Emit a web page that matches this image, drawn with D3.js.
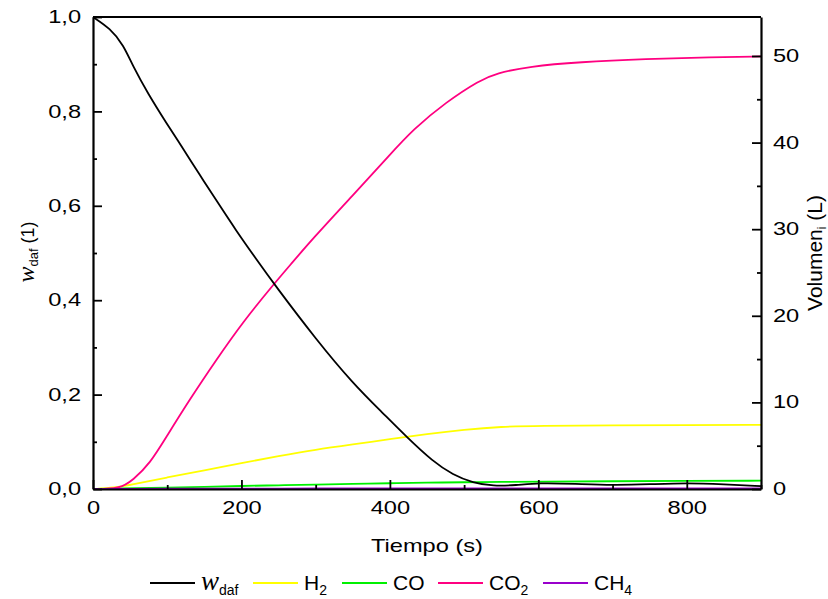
<!DOCTYPE html>
<html>
<head>
<meta charset="utf-8">
<script src="https://d3js.org/d3.v7.min.js"></script>
<style>
  body { margin: 0; background: #fff; }
  text { font-family: "Liberation Sans", Arial, sans-serif; fill: #000; }
</style>
</head>
<body>
<script>
// w_daf (left axis, fraction)
var tW = [0, 23, 41, 54, 74, 99, 121, 144, 166, 193, 220, 245, 301, 350, 391, 422, 458, 485, 512, 539, 570, 600, 650, 700, 750, 800, 850, 900];
var wDaf = [1.0, 0.976, 0.941, 0.895, 0.838, 0.775, 0.722, 0.665, 0.612, 0.547, 0.487, 0.432, 0.316, 0.224, 0.160, 0.111, 0.058, 0.030, 0.013, 0.006, 0.008, 0.013, 0.011, 0.008, 0.010, 0.013, 0.010, 0.006];

// gas volumes (right axis, L)
var tGas = [0, 36, 54, 77, 99, 130, 166, 202, 245, 265, 296, 350, 400, 431, 476, 521, 543, 588, 655, 745, 834, 900];
var vCO2 = [0, 0, 1.04, 2.97, 6.04, 10.3, 14.9, 19.3, 23.8, 25.8, 28.9, 33.9, 38.6, 41.5, 44.7, 47.2, 48.0, 48.8, 49.3, 49.65, 49.85, 49.95];

var tH2 = [0, 30, 50, 100, 150, 200, 250, 300, 350, 400, 450, 500, 550, 600, 700, 800, 900];
var vH2 = [0, 0.15, 0.45, 1.35, 2.15, 3.0, 3.8, 4.55, 5.15, 5.75, 6.35, 6.85, 7.2, 7.3, 7.35, 7.38, 7.4];
var vCO = [0, 0.05, 0.1, 0.15, 0.25, 0.35, 0.43, 0.5, 0.58, 0.67, 0.73, 0.78, 0.82, 0.85, 0.9, 0.93, 0.96];
var vCH4 = [0, 0.01, 0.02, 0.03, 0.04, 0.05, 0.05, 0.06, 0.06, 0.07, 0.07, 0.07, 0.08, 0.08, 0.08, 0.08, 0.08];

var xTicks = [0, 200, 400, 600, 800];
var yLeftTicks = [0, 0.2, 0.4, 0.6, 0.8, 1.0];
var yRightTicks = [0, 10, 20, 30, 40, 50];

var legendNames = ["w", "H", "CO", "CO", "CH"];
var legendSubs = ["daf", "2", "", "2", "4"];
var colors = ["#000000", "#ffff00", "#00f000", "#ff0080", "#9900cc"];

var W = 828, H = 599;
var pLeft = 93, pRight = 761, pTop = 17, pBottom = 489;
var sx = 1.35; // labels in the source look horizontally stretched

var svg = d3.select("body").append("svg")
  .attr("width", W).attr("height", H);

var x = d3.scaleLinear().domain([0, 900]).range([pLeft, pRight]);
var yL = d3.scaleLinear().domain([0, 1]).range([pBottom, pTop]);
var yR = d3.scaleLinear().domain([0, 54.5]).range([pBottom, pTop]);

var fmt = function (d) { return d3.format(".1f")(d).replace(".", ","); };

// curves
var line = d3.line().curve(d3.curveBasis);
function drawSeries(ts, vs, yScale, color) {
  var pts = ts.map(function (t, i) { return [x(t), yScale(vs[i])]; });
  svg.append("path")
    .attr("d", line(pts))
    .attr("fill", "none")
    .attr("stroke", color)
    .attr("stroke-width", 1.8);
}
drawSeries(tH2, vCO, yR, colors[2]);
drawSeries(tH2, vH2, yR, colors[1]);
drawSeries(tGas, vCO2, yR, colors[3]);
drawSeries(tW, wDaf, yL, colors[0]);
drawSeries(tH2, vCH4, yR, colors[4]);

// axes (ticks pointing inward)
var gx = svg.append("g").attr("transform", "translate(0," + pBottom + ")")
  .call(d3.axisBottom(x).tickValues(d3.range(0, 901, 100)).tickSizeInner(-9).tickSizeOuter(0)
    .tickFormat(function (d) { return xTicks.indexOf(d) >= 0 ? d : ""; }));
var gl = svg.append("g").attr("transform", "translate(" + pLeft + ",0)")
  .call(d3.axisLeft(yL).tickValues(d3.range(0, 11).map(function (i) { return i / 10; }))
    .tickSizeInner(-9).tickSizeOuter(0)
    .tickFormat(function (d, i) { return i % 2 === 0 ? fmt(d) : ""; }));
var gr = svg.append("g").attr("transform", "translate(" + pRight + ",0)")
  .call(d3.axisRight(yR).tickValues(d3.range(0, 51, 5)).tickSizeInner(-9).tickSizeOuter(0)
    .tickFormat(function (d) { return yRightTicks.indexOf(d) >= 0 ? d : ""; }));

[gx, gl, gr].forEach(function (g) {
  g.attr("font-size", null).attr("font-family", null);
  g.select(".domain").attr("stroke", "#000").attr("stroke-width", 2.2);
  g.selectAll(".tick line").attr("stroke", "#000").attr("stroke-width", 1.8);
  g.selectAll(".tick text").style("font-size", "17.5px").attr("fill", "#000")
    .attr("transform", "scale(" + sx + ",1)");
});
gx.selectAll(".tick text").attr("y", 13).attr("dy", "0.71em");
gx.selectAll(".tick").filter(function (d) { return xTicks.indexOf(d) < 0; })
  .select("line").attr("y2", -4);
gl.selectAll(".tick").filter(function (d, i) { return i % 2 === 1; })
  .select("line").attr("x2", 4);
gl.selectAll(".tick text").attr("x", -12 / sx);
gr.selectAll(".tick").filter(function (d) { return yRightTicks.indexOf(d) < 0; })
  .select("line").attr("x2", -4);
gr.selectAll(".tick text").attr("x", 12 / sx);

// top border
svg.append("line")
  .attr("x1", pLeft).attr("x2", pRight).attr("y1", pTop).attr("y2", pTop)
  .attr("stroke", "#000").attr("stroke-width", 2.2);

// axis titles
svg.append("text")
  .attr("transform", "translate(427,552) scale(" + sx + ",1)")
  .attr("text-anchor", "middle").style("font-size", "17.5px")
  .text("Tiempo (s)");

var lt = svg.append("text")
  .attr("transform", "translate(34,252) rotate(-90)")
  .attr("text-anchor", "middle").style("font-size", "18px");
lt.append("tspan").style("font-family", "'Liberation Serif', serif").style("font-style", "italic")
  .style("font-size", "24px").text("w");
lt.append("tspan").attr("dy", 4).style("font-size", "13px").text("daf");
lt.append("tspan").attr("dy", -4).text(" (1)");

var rt = svg.append("text")
  .attr("transform", "translate(822,253) rotate(-90)")
  .attr("text-anchor", "middle").style("font-size", "21px");
rt.append("tspan").text("Volumen");
rt.append("tspan").attr("dy", 4).style("font-size", "12px").text("i");
rt.append("tspan").attr("dy", -4).text(" (L)");

// legend
var legX = [150, 253, 342, 438, 543];
var legY = 583;
legendNames.forEach(function (name, i) {
  svg.append("line")
    .attr("x1", legX[i]).attr("x2", legX[i] + 45)
    .attr("y1", legY).attr("y2", legY)
    .attr("stroke", colors[i]).attr("stroke-width", 2);
  var t = svg.append("text")
    .attr("x", legX[i] + 51).attr("y", legY + 7)
    .style("font-size", "21px");
  if (i === 0) {
    t.append("tspan").style("font-family", "'Liberation Serif', serif").style("font-style", "italic")
      .style("font-size", "27px").text(name);
  } else {
    t.append("tspan").text(name);
  }
  if (legendSubs[i]) {
    t.append("tspan").attr("dy", 5).style("font-size", "14px").text(legendSubs[i]);
  }
});
</script>
</body>
</html>
